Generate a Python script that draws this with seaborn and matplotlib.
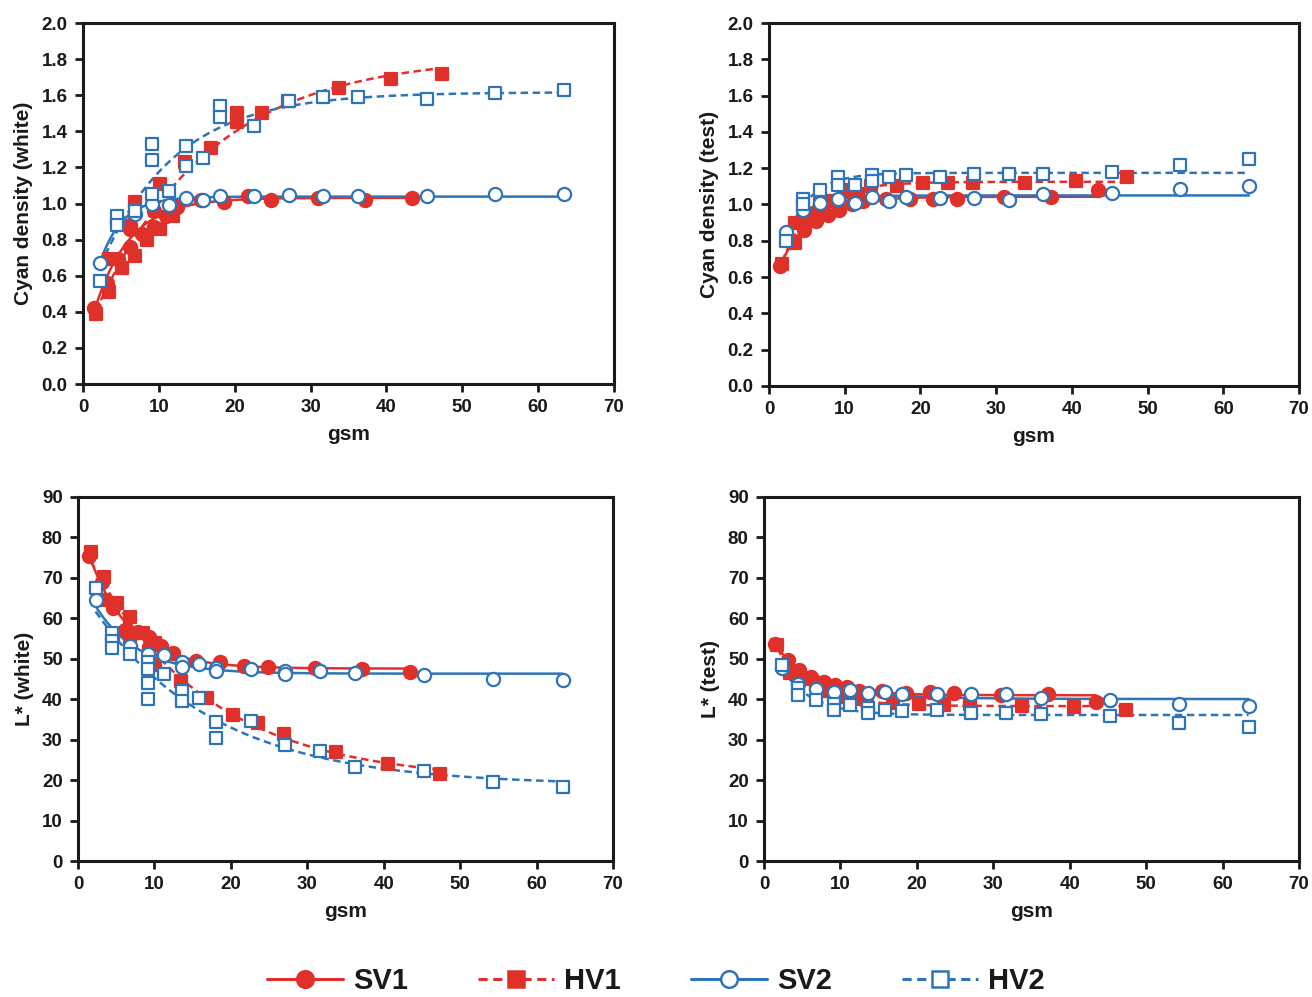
import numpy as np
import pandas as pd
import seaborn as sns
import matplotlib
matplotlib.use("Agg")
import matplotlib.pyplot as plt
from matplotlib.lines import Line2D

sns.set_theme(style="white")
plt.rcParams["font.family"] = ["Liberation Sans", "DejaVu Sans"]
plt.rcParams["font.weight"] = "bold"

# ---------------- data ----------------
series_names = ["SV1", "HV1", "SV2", "HV2"]

# Cyan density on white
cw_sv1_x = [1.5, 3.1, 4.6, 6.2, 6.2, 6.2, 7.8, 9.3, 9.3, 10.9, 12.4, 15.5, 18.6, 21.7, 24.8, 31.0, 37.2, 43.4]
cw_sv1_y = [0.42, 0.56, 0.69, 0.76, 0.86, 0.88, 0.83, 0.87, 0.96, 0.93, 0.98, 1.02, 1.01, 1.04, 1.02, 1.03, 1.02, 1.03]
cw_hv1_x = [1.7, 3.4, 3.4, 5.1, 6.8, 6.8, 8.45, 10.1, 10.1, 11.8, 13.5, 16.9, 20.3, 20.3, 23.6, 27.0, 33.8, 40.6, 47.3]
cw_hv1_y = [0.39, 0.51, 0.69, 0.64, 0.71, 1.01, 0.80, 0.86, 1.11, 0.93, 1.23, 1.31, 1.45, 1.50, 1.50, 1.57, 1.64, 1.69, 1.72]
cw_sv2_x = [2.3, 4.5, 6.8, 9.1, 11.3, 13.6, 15.8, 18.1, 22.6, 27.1, 31.7, 36.2, 45.3, 54.3, 63.4]
cw_sv2_y = [0.67, 0.90, 0.94, 1.00, 0.99, 1.03, 1.02, 1.04, 1.04, 1.045, 1.04, 1.04, 1.04, 1.05, 1.05]
cw_hv2_x = [2.3, 4.5, 4.5, 6.8, 9.1, 9.1, 9.1, 11.3, 13.6, 13.6, 15.8, 18.1, 18.1, 22.6, 27.1, 31.7, 36.2, 45.3, 54.3, 63.4]
cw_hv2_y = [0.57, 0.93, 0.88, 0.96, 1.33, 1.24, 1.05, 1.07, 1.32, 1.21, 1.25, 1.54, 1.48, 1.43, 1.57, 1.59, 1.59, 1.58, 1.61, 1.63]

# Cyan density on test substrate
ct_sv1_x = [1.5, 3.1, 4.6, 6.2, 6.2, 7.8, 9.3, 10.9, 12.4, 15.5, 18.6, 21.7, 24.8, 31.0, 37.2, 43.4]
ct_sv1_y = [0.66, 0.80, 0.86, 0.91, 0.96, 0.94, 0.97, 1.00, 1.02, 1.03, 1.03, 1.03, 1.03, 1.04, 1.04, 1.08]
ct_hv1_x = [1.7, 3.4, 3.4, 5.1, 6.8, 8.45, 10.1, 11.8, 13.5, 16.9, 20.3, 23.6, 27.0, 33.8, 40.6, 47.3]
ct_hv1_y = [0.67, 0.79, 0.90, 0.91, 1.00, 1.02, 1.08, 1.06, 1.10, 1.10, 1.12, 1.12, 1.12, 1.12, 1.13, 1.15]
ct_sv2_x = [2.3, 4.5, 6.8, 9.1, 11.3, 13.6, 15.8, 18.1, 22.6, 27.1, 31.7, 36.2, 45.3, 54.3, 63.4]
ct_sv2_y = [0.85, 0.97, 1.01, 1.03, 1.01, 1.04, 1.02, 1.04, 1.035, 1.035, 1.025, 1.06, 1.065, 1.085, 1.10]
ct_hv2_x = [2.3, 4.5, 4.5, 6.8, 9.1, 9.1, 11.3, 13.6, 13.6, 15.8, 18.1, 22.6, 27.1, 31.7, 36.2, 45.3, 54.3, 63.4]
ct_hv2_y = [0.80, 1.03, 1.00, 1.08, 1.15, 1.11, 1.11, 1.16, 1.13, 1.15, 1.16, 1.15, 1.17, 1.17, 1.17, 1.18, 1.22, 1.25]

# L* on white
lw_sv1_x = [1.5, 3.1, 4.6, 6.2, 7.8, 9.3, 9.3, 10.9, 12.4, 15.5, 18.6, 21.7, 24.8, 31.0, 37.2, 43.4]
lw_sv1_y = [75.4, 69.0, 62.5, 57.1, 56.7, 55.3, 53.0, 53.2, 51.4, 49.5, 49.3, 48.2, 48.0, 47.6, 47.5, 46.7]
lw_hv1_x = [1.7, 3.4, 3.4, 5.1, 6.8, 6.8, 8.45, 10.1, 10.1, 13.5, 16.9, 20.3, 23.6, 27.0, 33.8, 40.6, 47.3]
lw_hv1_y = [76.5, 70.1, 64.5, 63.7, 60.4, 55.1, 56.3, 53.8, 48.5, 44.5, 40.2, 36.1, 34.0, 31.4, 26.9, 24.0, 21.5]
lw_sv2_x = [2.3, 4.5, 6.8, 9.1, 11.3, 13.6, 13.6, 15.8, 18.1, 18.1, 22.6, 27.1, 27.1, 31.7, 36.2, 45.3, 54.3, 63.4]
lw_sv2_y = [64.5, 55.0, 53.2, 51.1, 51.0, 49.3, 48.0, 48.7, 47.8, 47.1, 47.4, 47.1, 46.3, 46.9, 46.4, 46.0, 45.1, 44.8]
lw_hv2_x = [2.3, 4.5, 4.5, 4.5, 6.8, 9.1, 9.1, 9.1, 9.1, 11.3, 13.6, 13.6, 15.8, 18.1, 18.1, 22.6, 27.1, 31.7, 36.2, 45.3, 54.3, 63.4]
lw_hv2_y = [67.4, 56.3, 54.5, 52.6, 51.1, 49.3, 47.4, 43.9, 40.0, 46.2, 42.0, 39.6, 40.2, 34.4, 30.3, 34.5, 28.7, 27.2, 23.3, 22.3, 19.5, 18.2]

# L* on test substrate
lt_sv1_x = [1.5, 3.1, 4.6, 6.2, 7.8, 9.3, 10.9, 12.4, 15.5, 18.6, 21.7, 24.8, 31.0, 37.2, 43.4]
lt_sv1_y = [53.7, 49.7, 47.2, 45.6, 44.3, 43.5, 42.9, 42.1, 42.0, 41.5, 41.7, 41.6, 41.0, 41.2, 39.4]
lt_hv1_x = [1.7, 3.4, 5.1, 6.8, 8.45, 10.1, 11.8, 13.5, 16.9, 20.3, 23.6, 27.0, 33.8, 40.6, 47.3]
lt_hv1_y = [53.5, 46.4, 45.0, 44.0, 42.0, 40.6, 40.1, 39.8, 39.1, 38.7, 38.6, 38.7, 38.3, 38.0, 37.3]
lt_sv2_x = [2.3, 4.5, 6.8, 9.1, 11.3, 13.6, 15.8, 18.1, 22.6, 27.1, 31.7, 36.2, 45.3, 54.3, 63.4]
lt_sv2_y = [47.6, 43.8, 42.5, 41.9, 42.3, 41.6, 41.7, 41.3, 41.4, 41.4, 41.4, 40.2, 39.8, 38.9, 38.3]
lt_hv2_x = [2.3, 4.5, 4.5, 6.8, 9.1, 9.1, 11.3, 13.6, 13.6, 15.8, 18.1, 22.6, 27.1, 31.7, 36.2, 45.3, 54.3, 63.4]
lt_hv2_y = [48.5, 42.7, 41.0, 39.8, 38.8, 37.3, 38.6, 37.8, 36.7, 37.3, 37.2, 37.3, 36.7, 36.5, 36.4, 35.9, 34.2, 33.1]

panel_labels = ["Cyan density (white)", "Cyan density (test)", "L* (white)", "L* (test)"]
x_label = "gsm"
x_ticks = [0, 10, 20, 30, 40, 50, 60, 70]
cyan_ticks = [0.0, 0.2, 0.4, 0.6, 0.8, 1.0, 1.2, 1.4, 1.6, 1.8, 2.0]
lstar_ticks = [0, 10, 20, 30, 40, 50, 60, 70, 80, 90]

# ---------------- styling ----------------
RED = "#E0302A"
BLUE = "#2E74B8"
styles = {
    "SV1": dict(color=RED, marker="o", face=RED, ls="-", s=90),
    "HV1": dict(color=RED, marker="s", face=RED, ls=(0, (3, 1.8)), s=85),
    "SV2": dict(color=BLUE, marker="o", face="white", ls="-", s=90),
    "HV2": dict(color=BLUE, marker="s", face="white", ls=(0, (3, 1.8)), s=80),
}


def saturation_fit(x, y, n=300):
    """Least-squares fit of y = a + b*exp(-x/c); returns a smooth curve."""
    x = np.asarray(x, float)
    y = np.asarray(y, float)
    best = None
    for c in np.linspace(0.5, 60, 1200):
        A = np.column_stack([np.ones_like(x), np.exp(-x / c)])
        coef, *_ = np.linalg.lstsq(A, y, rcond=None)
        sse = np.sum((A @ coef - y) ** 2)
        if best is None or sse < best[0]:
            best = (sse, c, coef)
    _, c, (a, b) = best
    xs = np.linspace(x.min(), x.max(), n)
    return xs, a + b * np.exp(-xs / c)


panels = [
    dict(data={"SV1": (cw_sv1_x, cw_sv1_y), "HV1": (cw_hv1_x, cw_hv1_y),
               "SV2": (cw_sv2_x, cw_sv2_y), "HV2": (cw_hv2_x, cw_hv2_y)},
         rect=[83, 23, 614, 384], ticks=cyan_ticks, fmt="{:.1f}"),
    dict(data={"SV1": (ct_sv1_x, ct_sv1_y), "HV1": (ct_hv1_x, ct_hv1_y),
               "SV2": (ct_sv2_x, ct_sv2_y), "HV2": (ct_hv2_x, ct_hv2_y)},
         rect=[769, 23, 1299, 386], ticks=cyan_ticks, fmt="{:.1f}"),
    dict(data={"SV1": (lw_sv1_x, lw_sv1_y), "HV1": (lw_hv1_x, lw_hv1_y),
               "SV2": (lw_sv2_x, lw_sv2_y), "HV2": (lw_hv2_x, lw_hv2_y)},
         rect=[78, 497, 613, 861], ticks=lstar_ticks, fmt="{:.0f}"),
    dict(data={"SV1": (lt_sv1_x, lt_sv1_y), "HV1": (lt_hv1_x, lt_hv1_y),
               "SV2": (lt_sv2_x, lt_sv2_y), "HV2": (lt_hv2_x, lt_hv2_y)},
         rect=[764, 497, 1299, 861], ticks=lstar_ticks, fmt="{:.0f}"),
]

W, H = 1312, 997
fig = plt.figure(figsize=(W / 100, H / 100), dpi=100)

for label, p in zip(panel_labels, panels):
    x0, y0, x1, y1 = p["rect"]
    ax = fig.add_axes([x0 / W, 1 - y1 / H, (x1 - x0) / W, (y1 - y0) / H])
    for name in series_names:
        xs, ys = p["data"][name]
        st = styles[name]
        fx, fy = saturation_fit(xs, ys)
        sns.lineplot(x=fx, y=fy, ax=ax, color=st["color"], linewidth=1.8,
                     linestyle=st["ls"], sort=False, estimator=None, zorder=2)
        sns.scatterplot(x=xs, y=ys, ax=ax, marker=st["marker"], s=st["s"],
                        color=st["face"], edgecolor=st["color"], linewidth=1.6,
                        zorder=3)
    ax.set_xlim(0, 70)
    ax.set_ylim(p["ticks"][0], p["ticks"][-1])
    ax.set_xticks(x_ticks)
    ax.set_yticks(p["ticks"])
    ax.set_yticklabels([p["fmt"].format(t) for t in p["ticks"]])
    for sp in ax.spines.values():
        sp.set_visible(True)
        sp.set_color("#1a1a1a")
        sp.set_linewidth(2.2)
    ax.tick_params(axis="both", which="major", direction="out", length=6,
                   width=2, color="#1a1a1a", labelsize=13.5, pad=5,
                   bottom=True, left=True, top=False, right=False)
    for t in ax.get_xticklabels() + ax.get_yticklabels():
        t.set_fontweight("bold")
        t.set_color("#1a1a1a")
    ax.set_xlabel(x_label, fontsize=15, fontweight="bold", color="#1a1a1a", labelpad=6)
    ax.set_ylabel(label, fontsize=15, fontweight="bold", color="#1a1a1a", labelpad=6)
    ax.grid(False)
    ax.set_facecolor("white")

handles = []
for name in series_names:
    st = styles[name]
    handles.append(Line2D([0], [0], color=st["color"], linestyle=st["ls"], linewidth=2.2,
                          marker=st["marker"], markersize=12,
                          markerfacecolor=st["face"], markeredgecolor=st["color"],
                          markeredgewidth=1.8))
leg = fig.legend(handles, series_names, loc="center", bbox_to_anchor=(0.5, 1 - 981 / H),
                 ncol=4, frameon=False, handlelength=2.6, columnspacing=2.4,
                 handletextpad=0.35, borderpad=0.2,
                 prop={"family": ["Liberation Sans", "DejaVu Sans"],
                       "weight": "bold", "size": 21})
for t in leg.get_texts():
    t.set_color("#1a1a1a")

fig.savefig("out.png", dpi=100, facecolor="white")
